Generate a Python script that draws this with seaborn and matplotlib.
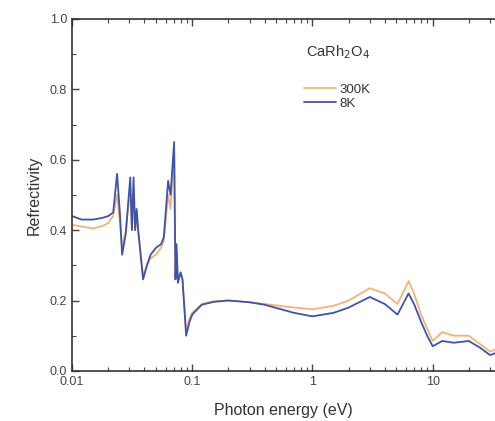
import matplotlib
matplotlib.use("Agg")
import matplotlib.pyplot as plt
import seaborn as sns
import pandas as pd
import numpy as np
from matplotlib.ticker import LogLocator, NullFormatter, MultipleLocator

# Photon energy (eV) sample points
energy = [0.010, 0.012, 0.015, 0.018, 0.020, 0.022, 0.0237, 0.0250, 0.0261, 0.028,
          0.0305, 0.0315, 0.0325, 0.0335, 0.0345, 0.0355, 0.0390, 0.042, 0.045,
          0.050, 0.055, 0.058, 0.063, 0.066, 0.0707, 0.0725, 0.074, 0.076, 0.080,
          0.083, 0.089, 0.095, 0.100, 0.120, 0.150, 0.200, 0.300, 0.400, 0.700,
          1.0, 1.5, 2.0, 3.0, 4.0, 5.1, 6.3, 7.0, 8.0, 9.0, 10.0, 12.0, 15.0,
          20.0, 25.0, 30.0, 33.0]

refl_300K = [0.415, 0.410, 0.405, 0.412, 0.420, 0.440, 0.500, 0.420, 0.350, 0.400,
             0.520, 0.400, 0.510, 0.400, 0.450, 0.400, 0.270, 0.300, 0.320,
             0.330, 0.350, 0.370, 0.500, 0.460, 0.620, 0.270, 0.340, 0.260, 0.280,
             0.260, 0.110, 0.150, 0.165, 0.190, 0.198, 0.200, 0.195, 0.190, 0.180,
             0.175, 0.185, 0.200, 0.235, 0.220, 0.190, 0.255, 0.220, 0.160, 0.120,
             0.085, 0.110, 0.100, 0.100, 0.075, 0.055, 0.060]

refl_8K = [0.440, 0.430, 0.430, 0.435, 0.440, 0.450, 0.560, 0.450, 0.330, 0.390,
           0.550, 0.400, 0.550, 0.400, 0.460, 0.400, 0.260, 0.300, 0.330,
           0.350, 0.360, 0.380, 0.540, 0.500, 0.650, 0.260, 0.360, 0.250, 0.280,
           0.260, 0.100, 0.140, 0.160, 0.188, 0.196, 0.200, 0.195, 0.188, 0.165,
           0.155, 0.165, 0.180, 0.210, 0.190, 0.160, 0.220, 0.190, 0.140, 0.100,
           0.070, 0.085, 0.080, 0.085, 0.065, 0.045, 0.050]

series_labels = ["300K", "8K"]
series_colors = ["#f2b27a", "#3d55a8"]
legend_title = r"CaRh$_2$O$_4$"

df = pd.DataFrame({
    "energy": energy * 2,
    "refl": refl_300K + refl_8K,
    "series": [series_labels[0]] * len(energy) + [series_labels[1]] * len(energy),
})

sns.set_style("white")
plt.rcParams["font.family"] = ["Liberation Sans", "DejaVu Sans"]

fig = plt.figure(figsize=(4.95, 4.21), dpi=100)
ax = fig.add_axes([0.1455, 0.119, 0.8545, 0.836])

sns.lineplot(data=df, x="energy", y="refl", hue="series", palette=series_colors,
             hue_order=series_labels, linewidth=1.3, ax=ax, sort=False,
             estimator=None)

ax.set_xscale("log")
ax.set_xlim(0.01, 33)
ax.set_ylim(0.0, 1.0)

ax.set_xticks([0.01, 0.1, 1, 10])
ax.set_xticklabels(["0.01", "0.1", "1", "10"])
ax.xaxis.set_minor_locator(LogLocator(base=10, subs=np.arange(2, 10)))
ax.xaxis.set_minor_formatter(NullFormatter())
ax.set_yticks([0.0, 0.2, 0.4, 0.6, 0.8, 1.0])
ax.set_yticklabels(["0.0", "0.2", "0.4", "0.6", "0.8", "1.0"])
ax.yaxis.set_minor_locator(MultipleLocator(0.1))

ax.tick_params(axis="both", which="major", direction="in", length=5, width=1,
               labelsize=9, colors="#444444", top=True, bottom=True, left=True, right=False)
ax.tick_params(axis="both", which="minor", direction="in", length=3, width=0.8,
               top=True, bottom=True, left=True, right=False, colors="#444444")

for side in ["left", "bottom", "top"]:
    ax.spines[side].set_color("#333333")
    ax.spines[side].set_linewidth(1.2)
ax.spines["right"].set_visible(False)

ax.set_xlabel("Photon energy (eV)", fontsize=11.5, color="#333333", labelpad=11)
ax.set_ylabel("Refrectivity", fontsize=11.5, color="#333333", labelpad=6)

ax.text(0.553, 0.905, legend_title, transform=ax.transAxes, fontsize=10.5,
        color="#333333", ha="left", va="center")

leg = ax.legend(loc="upper left", bbox_to_anchor=(0.52, 0.85), frameon=False,
                fontsize=9.5, handlelength=2.4, handletextpad=0.3,
                labelspacing=0.15)
for t in leg.get_texts():
    t.set_color("#333333")

fig.savefig("out.png", dpi=100)
